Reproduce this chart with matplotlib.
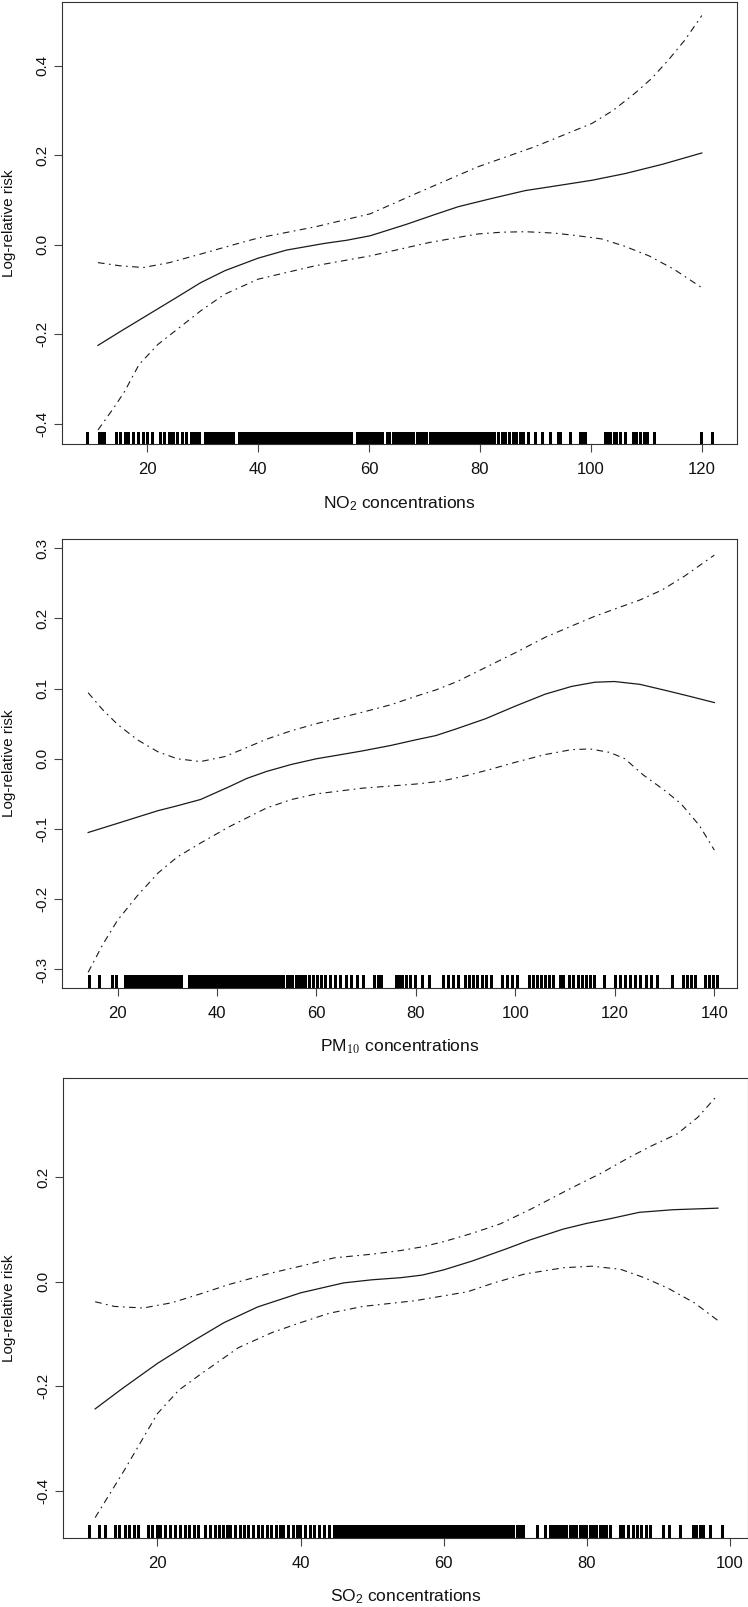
import matplotlib
matplotlib.use("Agg")
import matplotlib.pyplot as plt
import matplotlib.transforms as mtransforms

plt.rcParams['font.family'] = ['Liberation Sans', 'DejaVu Sans']
plt.rcParams['mathtext.fontset'] = 'custom'
plt.rcParams['mathtext.rm'] = 'Liberation Sans'
plt.rcParams['mathtext.it'] = 'Liberation Sans:italic'

# ---- NO2 panel ----
no2_x_fit = [11.1, 15, 20.2, 25, 29.6, 34, 40, 45.1, 52, 56, 60.2, 66.6, 72, 76.1, 82, 88.2, 94, 100.2, 106.2, 113, 120]
no2_fit = [-0.225, -0.195, -0.156, -0.12, -0.085, -0.058, -0.030, -0.012, 0.003, 0.010, 0.020, 0.045, 0.068, 0.085,
           0.103, 0.121, 0.132, 0.144, 0.159, 0.18, 0.205]
no2_x_up = [11.1, 15, 19.3, 24, 29.6, 35, 40, 50.3, 60.2, 68.4, 79.6, 89.9, 100.2, 104, 108, 111, 114, 117, 120]
no2_up = [-0.040, -0.047, -0.051, -0.040, -0.021, -0.002, 0.015, 0.040, 0.069, 0.114, 0.174, 0.219, 0.271, 0.300,
          0.339, 0.372, 0.413, 0.458, 0.512]
no2_x_lo = [11.1, 14.1, 15.9, 18.5, 21.9, 25.3, 29.6, 33.9, 40, 50.3, 60.2, 70.9, 79.6, 84, 88.2, 93.3, 97, 101.9,
            106, 110.5, 115, 120]
no2_lo = [-0.414, -0.362, -0.328, -0.268, -0.223, -0.190, -0.148, -0.111, -0.077, -0.047, -0.025, 0.005, 0.024, 0.028,
          0.029, 0.026, 0.021, 0.013, -0.003, -0.025, -0.055, -0.096]
no2_rug = [9.2, 11.3, 11.8, 12.2,
           14.3, 15.1, 15.9, 16.6, 17.5, 18.4, 19.3, 20.0, 20.9, 22.3, 23.0, 23.9, 24.2, 24.6, 25.4, 26.3, 27.0,
           27.8, 28.3, 28.7, 29.4,
           30.4, 30.8, 31.1, 31.5, 31.9, 32.2, 32.6, 33.0, 33.3, 33.7, 34.1, 34.4, 34.8, 35.2, 35.5,
           36.6, 37.0, 37.4, 37.8, 38.1, 38.5, 38.9, 39.3, 39.7, 40.0, 40.4, 40.8, 41.2, 41.6, 42.0, 42.3, 42.7, 43.1,
           43.5, 43.9, 44.3, 44.6, 45.0, 45.4, 45.8, 46.2, 46.6, 47.0, 47.4, 47.7, 48.1, 48.5, 48.9, 49.3, 49.7, 50.1,
           50.5, 50.8, 51.2, 51.6, 52.0, 52.4, 52.8, 53.2, 53.6, 54.0, 54.3, 54.7, 55.1, 55.5, 55.9, 56.3, 56.7, 57.8,
           58.2, 58.5, 58.9, 59.3, 59.7, 60.1, 60.5, 60.9, 61.3, 61.6, 62.0, 62.4, 63.2, 63.6, 64.4, 64.8, 65.2, 65.6,
           66.0, 66.4, 66.8, 67.2, 67.6, 68.0, 68.7, 69.1, 69.5, 69.9, 70.3, 71.0, 71.4, 71.8, 72.2, 72.6, 73.0, 73.4,
           73.8, 74.2, 74.6, 75.0, 75.4, 75.8, 76.2, 76.6, 77.0, 77.4, 77.8, 78.2, 78.6, 79.0, 79.5, 80.0, 80.4, 80.9,
           81.5, 82.0, 82.6, 83.3, 84.0, 84.6, 85.2, 85.9, 86.5, 87.2, 87.8, 88.7, 90.0, 91.2, 92.7, 94.1, 94.5, 96.3,
           98.1, 98.6, 99.0, 102.5, 103.0, 103.5, 104.1, 104.6, 105.2, 106.1, 107.6, 108.2, 108.8, 109.5, 110.2,
           111.4, 119.8, 121.9]

# ---- PM10 panel ----
pm_x_fit = [14.1, 20, 28.1, 32, 36.7, 42.4, 46, 50, 55, 60, 65, 69.1, 75, 80, 84, 88.3, 94, 100, 106, 111.3, 116,
            119.9, 125, 130.4, 135, 140]
pm_fit = [-0.105, -0.092, -0.074, -0.067, -0.058, -0.040, -0.028, -0.018, -0.008, 0.000, 0.006, 0.011, 0.019, 0.027,
          0.033, 0.043, 0.057, 0.075, 0.092, 0.103, 0.109, 0.110, 0.106, 0.097, 0.089, 0.080]
pm_x_up = [14.1, 17, 20, 24, 28.1, 32, 36.7, 41.5, 45, 50, 55, 60, 69.1, 75, 80, 84, 88.3, 94, 100, 106, 111.3, 116,
           119.9, 125, 129.4, 134, 140]
pm_up = [0.094, 0.070, 0.049, 0.027, 0.010, 0.000, -0.004, 0.003, 0.013, 0.028, 0.040, 0.050, 0.066, 0.077, 0.089,
         0.098, 0.110, 0.130, 0.151, 0.173, 0.189, 0.203, 0.213, 0.226, 0.240, 0.260, 0.290]
pm_x_lo = [14.1, 17, 20, 24, 28.1, 32, 36.7, 42.4, 50, 55, 60, 69.1, 80, 85, 90.2, 95, 100, 106, 111.3, 115, 119,
           122, 125.7, 130, 133.3, 137, 140]
pm_lo = [-0.304, -0.265, -0.230, -0.195, -0.163, -0.140, -0.120, -0.097, -0.070, -0.058, -0.050, -0.042, -0.036,
         -0.032, -0.024, -0.015, -0.005, 0.006, 0.013, 0.014, 0.009, 0.000, -0.023, -0.045, -0.064, -0.095, -0.130]
pm_rug = [14.3, 16.2, 18.8, 19.7,
          21.6, 22.0, 22.4, 22.8, 23.2, 23.6, 24.0, 24.4, 24.8, 25.2, 25.6, 26.0, 26.4, 26.8, 27.2, 27.6, 28.0, 28.4,
          28.8, 29.2, 29.6, 30.0, 30.4, 30.8, 31.2, 31.6, 32.0, 32.4, 32.8,
          34.4, 34.8, 35.2, 35.6, 36.0, 36.4, 36.8, 37.2, 37.6, 38.0, 38.4, 38.8, 39.2, 39.6, 40.0, 40.4, 40.8, 41.2,
          41.6, 42.0, 42.4, 42.8, 43.2, 43.6, 44.0, 44.4, 44.8, 45.2, 45.6, 46.0, 46.4, 46.8, 47.2, 47.6, 48.0, 48.4,
          48.8, 49.2, 49.6, 50.0, 50.4, 50.8, 51.1,
          51.6, 52.2, 52.8, 53.3, 54.0, 54.5, 55.1, 55.8, 56.4, 57.0, 57.7,
          58.6, 59.4, 60.2, 61.0, 61.8, 62.8, 63.8, 64.8, 66.0, 67.0, 68.2, 69.4,
          71.6, 72.3, 73.0, 75.9, 76.5, 77.2, 78.0, 78.8, 79.8, 81.2, 82.6, 85.5, 86.4, 87.4, 88.4, 89.8, 90.6, 91.5,
          92.3, 93.2, 94.1, 95.0, 97.4, 98.3, 99.4, 100.3, 102.7, 103.5, 104.3, 105.1, 105.9, 106.7, 107.5, 108.9,
          109.6, 110.8, 111.6, 112.5, 113.4, 114.2, 115.0, 115.8, 117.8, 120.0, 121.0, 122.1, 123.0, 124.1, 125.0,
          126.2, 127.3, 128.5, 131.4, 133.8, 134.6, 135.4, 136.2, 138.1, 139.0, 139.7, 140.5]

# ---- SO2 panel ----
so2_x_fit = [11.3, 15, 20, 25, 29.3, 34, 40, 46, 50, 54, 57, 60, 64, 68.7, 72, 76.7, 80, 83.3, 87.3, 92, 98.3]
so2_fit = [-0.243, -0.205, -0.156, -0.113, -0.078, -0.048, -0.021, -0.002, 0.004, 0.008, 0.013, 0.023, 0.040, 0.063,
           0.080, 0.101, 0.112, 0.121, 0.133, 0.138, 0.141]
so2_x_up = [11.3, 14, 18, 22, 26, 30, 35.3, 40, 44.7, 50, 54, 57, 60, 64, 67.9, 72, 77.9, 82, 85.9, 89, 92.6, 95.5, 98.3]
so2_up = [-0.038, -0.047, -0.050, -0.040, -0.023, -0.005, 0.015, 0.030, 0.046, 0.053, 0.060, 0.067, 0.077, 0.093,
          0.111, 0.138, 0.180, 0.208, 0.238, 0.260, 0.283, 0.315, 0.358]
so2_x_lo = [11.3, 15.3, 20, 23, 26, 31.3, 36, 40, 44, 48.7, 56, 63.3, 67, 71.3, 76.7, 80.7, 84.7, 88, 91.3, 95, 98.3]
so2_lo = [-0.451, -0.362, -0.252, -0.207, -0.177, -0.126, -0.097, -0.078, -0.060, -0.047, -0.036, -0.019, -0.002,
          0.015, 0.027, 0.030, 0.024, 0.008, -0.012, -0.040, -0.074]
so2_rug = [10.4, 11.8, 12.7,
           14.1, 14.7, 15.4, 16.0, 16.7, 17.3, 18.7, 19.3, 20.0, 20.4, 21.0, 21.8, 22.5, 23.1, 23.8, 24.4, 25.1, 25.7,
           26.7, 27.3, 28.0, 28.6, 29.2, 29.7, 30.2, 30.8, 31.5, 32.1, 32.7, 33.4, 34.0, 34.6, 35.3, 35.9, 36.5, 37.1,
           37.6, 38.3, 38.9, 39.5, 39.9, 40.6, 41.3, 41.9, 42.6, 43.2, 43.9, 44.6,
           44.9, 45.2, 45.5, 45.8, 46.1, 46.4, 46.7, 47.0, 47.4, 47.8, 48.2, 48.6, 49.0, 49.4, 49.8, 50.2, 50.6,
           51.0, 51.4, 51.8, 52.2, 52.6, 53.0, 53.4, 53.9, 54.2, 54.5, 54.8, 55.1, 55.4, 55.7, 56.0, 56.4, 56.8, 57.2,
           57.6, 58.0, 58.4, 58.8, 59.2, 59.6, 60.0, 60.4, 60.8, 61.2, 61.6, 62.0, 62.4, 62.8, 63.2, 63.6, 64.0, 64.4,
           64.8, 65.2, 65.6, 66.0, 66.4, 66.8, 67.2, 67.6, 68.0, 68.4, 68.8, 69.2, 69.7, 70.2, 70.6, 71.1, 73.0, 74.1,
           74.8, 75.3, 75.6, 75.9, 76.2, 76.5, 76.8, 77.1, 77.6, 78.0, 78.5, 79.0, 79.4, 79.9, 80.4, 80.8, 81.3, 81.8,
           82.3, 82.7, 83.2, 84.6, 85.1, 85.7, 86.4, 87.0, 87.6, 88.2, 88.8, 90.6, 91.5, 93.0, 94.8, 95.3, 95.8, 96.2,
           97.2, 98.9]

W, H = 748, 1607
fig = plt.figure(figsize=(W / 100, H / 100), dpi=100)

dotdash = (0, (6, 4, 1.5, 4))


def panel(box, xlim, ylim, xticks, yticks, xs, ys, rug, xlabel, math_font='custom'):
    left, right, top, bottom = box
    ax = fig.add_axes([left / W, 1 - bottom / H, (right - left) / W, (bottom - top) / H])
    ax.plot(xs[0], ys[0], color='#1a1a1a', lw=0.9)
    ax.plot(xs[1], ys[1], color='#1a1a1a', lw=0.8, linestyle=dotdash)
    ax.plot(xs[2], ys[2], color='#1a1a1a', lw=0.8, linestyle=dotdash)
    # rug along the bottom
    trans = mtransforms.blended_transform_factory(ax.transData, ax.transAxes)
    ax.vlines(rug, 0, 0.028, transform=trans, color='black', lw=1.0, antialiased=False)
    ax.set_xlim(*xlim)
    ax.set_ylim(*ylim)
    ax.set_xticks(xticks)
    ax.set_yticks(yticks)
    ax.set_yticklabels(['%.1f' % v for v in yticks])
    for s in ax.spines.values():
        s.set_color('#333333')
        s.set_linewidth(0.8)
    ax.tick_params(axis='both', direction='out', length=6, width=0.8, color='#444444', labelcolor='#111111')
    ax.tick_params(axis='x', pad=7, labelsize=12)
    ax.tick_params(axis='y', pad=3, labelrotation=90, labelsize=11)
    for t in ax.get_yticklabels():
        t.set_va('center')
    axh = bottom - top
    axw = right - left
    ax.set_xlabel(xlabel, fontsize=12.5, color='#111111', math_fontfamily=math_font)
    ax.xaxis.set_label_coords(0.5, -59 / axh)
    ax.xaxis.label.set_va('center')
    ax.set_ylabel('Log-relative risk', fontsize=11, color='#111111')
    ax.yaxis.set_label_coords(-(left - 9) / axw, 0.5)
    ax.yaxis.label.set_va('center')
    return ax


panel((62.3, 736.7, 1.7, 444.3), (4.67, 126.3), (-0.446, 0.543), [20, 40, 60, 80, 100, 120],
      [-0.4, -0.2, 0.0, 0.2, 0.4],
      (no2_x_fit, no2_x_up, no2_x_lo), (no2_fit, no2_up, no2_lo), no2_rug, r'NO$_2$ concentrations')

panel((62.3, 737.2, 539.3, 987.7), (8.9, 144.6), (-0.326, 0.3125), [20, 40, 60, 80, 100, 120, 140],
      [-0.3, -0.2, -0.1, 0.0, 0.1, 0.2, 0.3],
      (pm_x_fit, pm_x_up, pm_x_lo), (pm_fit, pm_up, pm_lo), pm_rug, r'PM$_{10}$ concentrations', 'cm')

panel((63.3, 748, 1078, 1538), (6.85, 102.5), (-0.49, 0.39), [20, 40, 60, 80, 100],
      [-0.4, -0.2, 0.0, 0.2],
      (so2_x_fit, so2_x_up, so2_x_lo), (so2_fit, so2_up, so2_lo), so2_rug, r'SO$_2$ concentrations')

fig.savefig('out.png', dpi=100)
